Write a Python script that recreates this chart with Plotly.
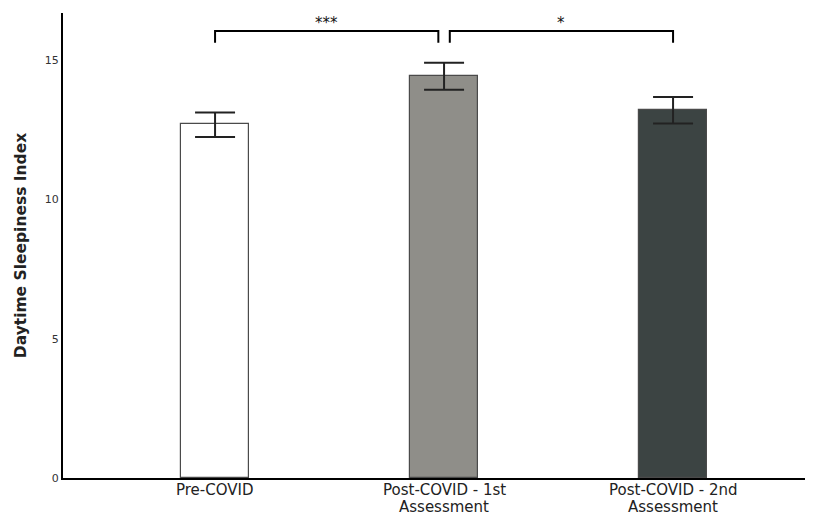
import plotly.graph_objects as go

categories = ["Pre-COVID", "Post-COVID - 1st<br>Assessment", "Post-COVID - 2nd<br>Assessment"]
means = [12.7, 14.42, 13.2]
err_upper = [0.43, 0.49, 0.48]
err_lower = [0.45, 0.48, 0.47]
bar_colors = ["#ffffff", "#8f8e89", "#3c4443"]
comparisons = [(0, 1, "***"), (1, 2, "*")]
y_ticks = [0, 5, 10, 15]

xpos = list(range(len(categories)))

fig = go.Figure()
fig.add_trace(go.Bar(
    x=xpos, y=means, width=0.3,
    marker=dict(color=bar_colors, line=dict(color="#4a4a4a", width=1.2)),
    error_y=dict(type="data", symmetric=False, array=err_upper, arrayminus=err_lower,
                 color="#222222", thickness=2, width=20),
    showlegend=False,
))

br_y = 16.05
br_drop = 0.42
gap = 0.025
for a, b, lab in comparisons:
    x0 = xpos[a] + (gap if a > 0 else 0)
    x1 = xpos[b] - gap if a == 0 else xpos[b]
    fig.add_shape(type="path",
                  path=f"M {x0},{br_y-br_drop} L {x0},{br_y} L {x1},{br_y} L {x1},{br_y-br_drop}",
                  line=dict(color="black", width=2))
    fig.add_annotation(x=(x0 + x1) / 2, y=br_y, text=lab, showarrow=False,
                       yanchor="bottom", yshift=-2, borderpad=0,
                       font=dict(size=15, color="#111"))

# category labels (two lines with tight spacing)
for xi, cat in zip(xpos, categories):
    lines = cat.split("<br>")
    for k, ln in enumerate(lines):
        fig.add_annotation(x=xi, y=0, xref="x", yref="paper", text=ln, showarrow=False,
                           yanchor="middle", yshift=-12 - 16.5 * k, borderpad=0,
                           font=dict(size=15, color="#222", family="DejaVu Sans"))

# page body has an 8px default margin: compensate so the plot lands where the reference has it
fig.update_layout(
    width=813, height=515,
    margin=dict(l=55, r=0, t=5, b=45),
    plot_bgcolor="white", paper_bgcolor="white",
    font=dict(family="DejaVu Sans", color="#222"),
    bargap=0,
)
fig.update_xaxes(range=[-0.664, 2.646], tickvals=xpos, showticklabels=False,
                 showline=True, linecolor="black", linewidth=2, showgrid=False,
                 zeroline=False, ticks="", automargin=False)
fig.update_yaxes(range=[0, 16.7], tickvals=y_ticks, showline=True, linecolor="black",
                 linewidth=2, showgrid=False, zeroline=False, ticks="", automargin=False,
                 tickfont=dict(size=11, color="#333"),
                 title=dict(text="<b>Daytime Sleepiness Index</b>", font=dict(size=15.5, color="#222"),
                            standoff=14))

fig.write_html("out.html")
